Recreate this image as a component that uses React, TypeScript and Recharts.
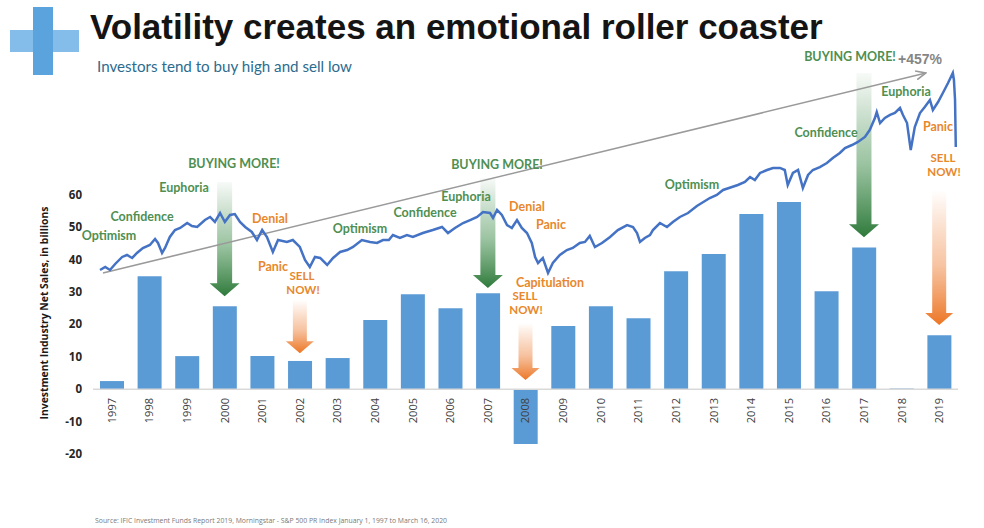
import React from 'react';
import { ComposedChart, Bar, Line, XAxis, YAxis, ReferenceLine } from 'recharts';

// ---- Data -------------------------------------------------------------
const years = ['1997','1998','1999','2000','2001','2002','2003','2004','2005','2006','2007','2008','2009','2010','2011','2012','2013','2014','2015','2016','2017','2018','2019'];
const netSales = [2.5, 34.8, 10.2, 25.6, 10.2, 8.7, 9.6, 21.3, 29.3, 25.0, 29.6, -16.9, 19.5, 25.6, 21.9, 36.4, 41.7, 54.0, 57.7, 30.2, 43.7, 0.2, 16.6];
const yTicks = [-20, -10, 0, 10, 20, 30, 40, 50, 60];

// S&P 500 PR index, time as fractional year
const spTime = [
  1997.00, 1997.14, 1997.27, 1997.41, 1997.60, 1997.73, 1997.87, 1998.00, 1998.16, 1998.35,
  1998.49, 1998.57, 1998.68, 1998.76, 1998.89, 1999.03, 1999.17, 1999.36, 1999.49, 1999.63,
  1999.84, 1999.98, 2000.11, 2000.25, 2000.38, 2000.52, 2000.65, 2000.79, 2000.93, 2001.11,
  2001.25, 2001.39, 2001.52, 2001.68, 2001.82, 2002.06, 2002.22, 2002.41, 2002.55, 2002.68,
  2002.82, 2002.96, 2003.15, 2003.31, 2003.50, 2003.69, 2003.85, 2004.09, 2004.31, 2004.50,
  2004.66, 2004.82, 2004.93, 2005.12, 2005.31, 2005.47, 2005.74, 2006.01, 2006.26, 2006.42,
  2006.61, 2006.83, 2007.02, 2007.21, 2007.37, 2007.56, 2007.64, 2007.75, 2007.88, 2008.02,
  2008.15, 2008.29, 2008.42, 2008.56, 2008.69, 2008.78, 2008.86, 2008.99, 2009.13, 2009.26,
  2009.45, 2009.64, 2009.80, 2009.99, 2010.13, 2010.26, 2010.40, 2010.59, 2010.81, 2011.02,
  2011.27, 2011.43, 2011.54, 2011.62, 2011.75, 2011.89, 2011.97, 2012.16, 2012.35, 2012.51,
  2012.70, 2012.92, 2013.16, 2013.51, 2013.70, 2013.87, 2014.11, 2014.27, 2014.46, 2014.60,
  2014.73, 2014.87, 2015.06, 2015.22, 2015.41, 2015.54, 2015.62, 2015.76, 2015.90, 2016.03,
  2016.17, 2016.30, 2016.49, 2016.68, 2016.84, 2017.03, 2017.17, 2017.36, 2017.52, 2017.71,
  2017.84, 2017.98, 2018.03, 2018.12, 2018.25, 2018.39, 2018.52, 2018.66, 2018.74, 2018.85,
  2018.95, 2019.06, 2019.20, 2019.33, 2019.47, 2019.55, 2019.69, 2019.82, 2019.96, 2020.09,
  2020.12, 2020.15, 2020.17,
];
const spLevel = [
  740, 781, 740, 823, 920, 947, 906, 975, 1044, 1085,
  1168, 1113, 975, 1044, 1196, 1292, 1320, 1389, 1348, 1334,
  1430, 1472, 1403, 1527, 1403, 1500, 1513, 1403, 1334, 1265,
  1154, 1292, 1196, 989, 1154, 1127, 1154, 1058, 878, 781,
  920, 906, 809, 906, 989, 1016, 1058, 1154, 1127, 1113,
  1154, 1154, 1223, 1182, 1223, 1196, 1251, 1292, 1334, 1251,
  1320, 1389, 1430, 1472, 1541, 1527, 1458, 1569, 1500, 1361,
  1320, 1430, 1320, 1251, 1113, 920, 837, 906, 699, 837,
  947, 1016, 1044, 1113, 1127, 1210, 1058, 1113, 1196, 1292,
  1361, 1334, 1251, 1127, 1182, 1223, 1292, 1389, 1334, 1403,
  1472, 1527, 1624, 1734, 1776, 1845, 1886, 1914, 1955, 2024,
  1983, 2080, 2121, 2149, 2149, 2121, 1914, 2080, 2121, 1872,
  2052, 2121, 2162, 2218, 2287, 2356, 2425, 2466, 2508, 2577,
  2673, 2839, 2922, 2770, 2839, 2881, 2908, 2977, 2881, 2770,
  2397, 2715, 2908, 2991, 3088, 2950, 3060, 3184, 3322, 3461,
  3364, 3088, 2439,
];

// gray trend arrow (start / end) in index units
const trendTime = [1997.08, 2019.36];
const trendLevel = [699, 3461];

// annotation arrows: category, from value, to value (net-sales units)
const buyArrows = [
  { year: '2000', from: 63.9, to: 28.7 },
  { year: '2007', from: 65.1, to: 31.2 },
  { year: '2017', from: 97.5, to: 46.9 },
];
const sellArrows = [
  { year: '2002', from: 27.5, to: 11.1 },
  { year: '2008', from: 20.4, to: 2.8 },
  { year: '2019', from: 61.4, to: 19.8 },
];

const barData = years.map((y, i) => ({ year: y, sales: netSales[i] }));
const spData = spTime.map((t, i) => ({ t, v: spLevel[i] }));
const trendData = trendTime.map((t, i) => ({ t, v: trendLevel[i] }));

// ---- Styles -------------------------------------------------------------
const GREEN = '#4f8f52';
const ORANGE = '#e8872c';

const notes: { text: string; x: number; y: number; c: string }[] = [
  { text: 'Optimism', x: 109, y: 240, c: GREEN },
  { text: 'Confidence', x: 142, y: 221, c: GREEN },
  { text: 'Euphoria', x: 184, y: 192, c: GREEN },
  { text: 'BUYING MORE!', x: 234, y: 168, c: GREEN },
  { text: 'Denial', x: 270, y: 223, c: ORANGE },
  { text: 'Panic', x: 273, y: 271, c: ORANGE },
  { text: 'Optimism', x: 360, y: 233, c: GREEN },
  { text: 'Confidence', x: 425, y: 217, c: GREEN },
  { text: 'Euphoria', x: 466, y: 201, c: GREEN },
  { text: 'BUYING MORE!', x: 497, y: 169, c: GREEN },
  { text: 'Denial', x: 527, y: 211, c: ORANGE },
  { text: 'Panic', x: 551, y: 229, c: ORANGE },
  { text: 'Capitulation', x: 550, y: 287, c: ORANGE },
  { text: 'Optimism', x: 692, y: 189, c: GREEN },
  { text: 'Confidence', x: 826, y: 137, c: GREEN },
  { text: 'Euphoria', x: 906, y: 96, c: GREEN },
  { text: 'BUYING MORE!', x: 850, y: 61, c: GREEN },
  { text: 'Panic', x: 938, y: 131, c: ORANGE },
];
// two-line "SELL / NOW!" labels: centre x, baseline of first line
const sellNow: { x: number; y: number }[] = [
  { x: 302, y: 280 },
  { x: 525, y: 300 },
  { x: 943, y: 162 },
];

const YearTick = (props: any) => {
  const { x, y, payload } = props;
  return (
    <text
      transform={`translate(${x},${y - 56}) rotate(-90)`}
      textAnchor="end"
      dy="0.36em"
      fontSize={11}
      fill="#404040"
      fontFamily="'Open Sans', sans-serif"
    >
      {payload.value}
    </text>
  );
};

const arrowShape = (kind: 'buy' | 'sell') => (p: any) => {
  const { x1, y1, y2 } = p;
  const cx = x1;
  const sw = kind === 'buy' ? 7.5 : 7;
  const hw = kind === 'buy' ? 15 : 14;
  const hh = kind === 'buy' ? 13 : 12;
  const d = `M${cx - sw},${y1} L${cx + sw},${y1} L${cx + sw},${y2 - hh} L${cx + hw},${y2 - hh} L${cx},${y2} L${cx - hw},${y2 - hh} L${cx - sw},${y2 - hh} Z`;
  return <path d={d} fill={`url(#${kind}Grad)`} />;
};

export default function App() {
  return (
    <div style={{ position: 'absolute', left: 0, top: 0, width: 984, height: 528, background: '#fff', overflow: 'hidden' }}>
      <svg width={0} height={0} style={{ position: 'absolute' }}>
        <defs>
          <linearGradient id="buyGrad" x1="0" y1="0" x2="0" y2="1">
            <stop offset="0%" stopColor="#3f8a4a" stopOpacity={0.04} />
            <stop offset="55%" stopColor="#4a9355" stopOpacity={0.55} />
            <stop offset="100%" stopColor="#2f7a3b" stopOpacity={1} />
          </linearGradient>
          <linearGradient id="sellGrad" x1="0" y1="0" x2="0" y2="1">
            <stop offset="0%" stopColor="#ed7d31" stopOpacity={0} />
            <stop offset="55%" stopColor="#ef8a48" stopOpacity={0.5} />
            <stop offset="100%" stopColor="#ec7624" stopOpacity={1} />
          </linearGradient>
          <marker id="trendHead" markerWidth="11" markerHeight="10" refX="10" refY="5" orient="auto" markerUnits="userSpaceOnUse">
            <path d="M0,0.5 L10,5 L0,9.5" fill="none" stroke="#9a9a9a" strokeWidth={1.6} />
          </marker>
        </defs>
      </svg>
      <ComposedChart width={984} height={528} data={barData} margin={{ top: 65, right: 26, bottom: 54, left: 0 }}>
        <XAxis xAxisId="cat" dataKey="year" interval={0} axisLine={false} tickLine={false} tickSize={0} tickMargin={0} height={20} tick={<YearTick />} />
        <XAxis xAxisId="line" type="number" dataKey="t" domain={[1996.81, 2020.23]} hide allowDataOverflow />
        <YAxis
          yAxisId="bar"
          domain={[-20, 100]}
          ticks={yTicks}
          interval={0}
          width={93}
          axisLine={false}
          tickLine={false}
          tickSize={0}
          tickMargin={11}
          allowDataOverflow
          tick={{ fill: '#262626', fontSize: 11.5, fontWeight: 700, fontFamily: "'Open Sans', sans-serif" }}
        />
        <YAxis yAxisId="line" orientation="right" domain={[-1801, 3571]} hide allowDataOverflow />
        <ReferenceLine xAxisId="cat" yAxisId="bar" y={0} stroke="#d9d9d9" strokeWidth={1.5} />
        <Bar xAxisId="cat" yAxisId="bar" dataKey="sales" fill="#5b9bd5" barSize={24} isAnimationActive={false} />
        {buyArrows.map((a) => (
          <ReferenceLine
            key={'b' + a.year}
            xAxisId="cat"
            yAxisId="bar"
            ifOverflow="visible"
            segment={[{ x: a.year, y: a.from }, { x: a.year, y: a.to }]}
            shape={arrowShape('buy')}
          />
        ))}
        {sellArrows.map((a) => (
          <ReferenceLine
            key={'s' + a.year}
            xAxisId="cat"
            yAxisId="bar"
            ifOverflow="visible"
            segment={[{ x: a.year, y: a.from }, { x: a.year, y: a.to }]}
            shape={arrowShape('sell')}
          />
        ))}
        <Line
          xAxisId="line"
          yAxisId="line"
          data={trendData}
          dataKey="v"
          stroke="#9a9a9a"
          strokeWidth={1.6}
          dot={false}
          markerEnd="url(#trendHead)"
          isAnimationActive={false}
        />
        <Line
          xAxisId="line"
          yAxisId="line"
          data={spData}
          dataKey="v"
          stroke="#4472c4"
          strokeWidth={2.5}
          dot={false}
          isAnimationActive={false}
        />
      </ComposedChart>
      <svg width={984} height={528} style={{ position: 'absolute', left: 0, top: 0, pointerEvents: 'none' }}>
        {/* logo */}
        <rect x={10} y={30} width={69} height={22} fill="#85bdea" />
        <rect x={33} y={7} width={20} height={68} fill="#5aa3dd" />
        <text x={90} y={39} fontSize={35} fontWeight={700} fill="#141414" fontFamily="'Liberation Sans', Arial, sans-serif">
          Volatility creates an emotional roller coaster
        </text>
        <text x={97} y={72} fontSize={15.5} fill="#2b6b8f" fontFamily="Lato, sans-serif" textLength={255} lengthAdjust="spacingAndGlyphs">
          Investors tend to buy high and sell low
        </text>
        <text
          transform="translate(48,313) rotate(-90)"
          textAnchor="middle"
          fontSize={11}
          fontWeight={700}
          fill="#1a1a1a"
          fontFamily="'Open Sans', sans-serif"
          textLength={213}
          lengthAdjust="spacingAndGlyphs"
        >
          Investment Industry Net Sales, in billions
        </text>
        {notes.map((n, i) => (
          <text key={i} x={n.x} y={n.y} textAnchor="middle" fontSize={12.5} fontWeight={700} fill={n.c} fontFamily="Lato, sans-serif">
            {n.text}
          </text>
        ))}
        {sellNow.map((s, i) => (
          <text key={'sn' + i} x={s.x} y={s.y} textAnchor="middle" fontSize={11.5} fontWeight={700} fill={ORANGE} fontFamily="Lato, sans-serif">
            <tspan x={s.x}>SELL</tspan>
            <tspan x={s.x + 1} dy={14}>NOW!</tspan>
          </text>
        ))}
        <text x={920} y={64} textAnchor="middle" fontSize={14} fontWeight={700} fill="#858585" fontFamily="'Liberation Sans', Arial, sans-serif">
          +457%
        </text>
        <text x={95} y={523} fontSize={7.5} fill="#7a7a7a" fontFamily="'Open Sans', sans-serif" textLength={352} lengthAdjust="spacingAndGlyphs">
          Source:  IFIC Investment Funds Report 2019,  Morningstar - S&amp;P 500 PR Index January 1, 1997 to March 16, 2020
        </text>
      </svg>
    </div>
  );
}
